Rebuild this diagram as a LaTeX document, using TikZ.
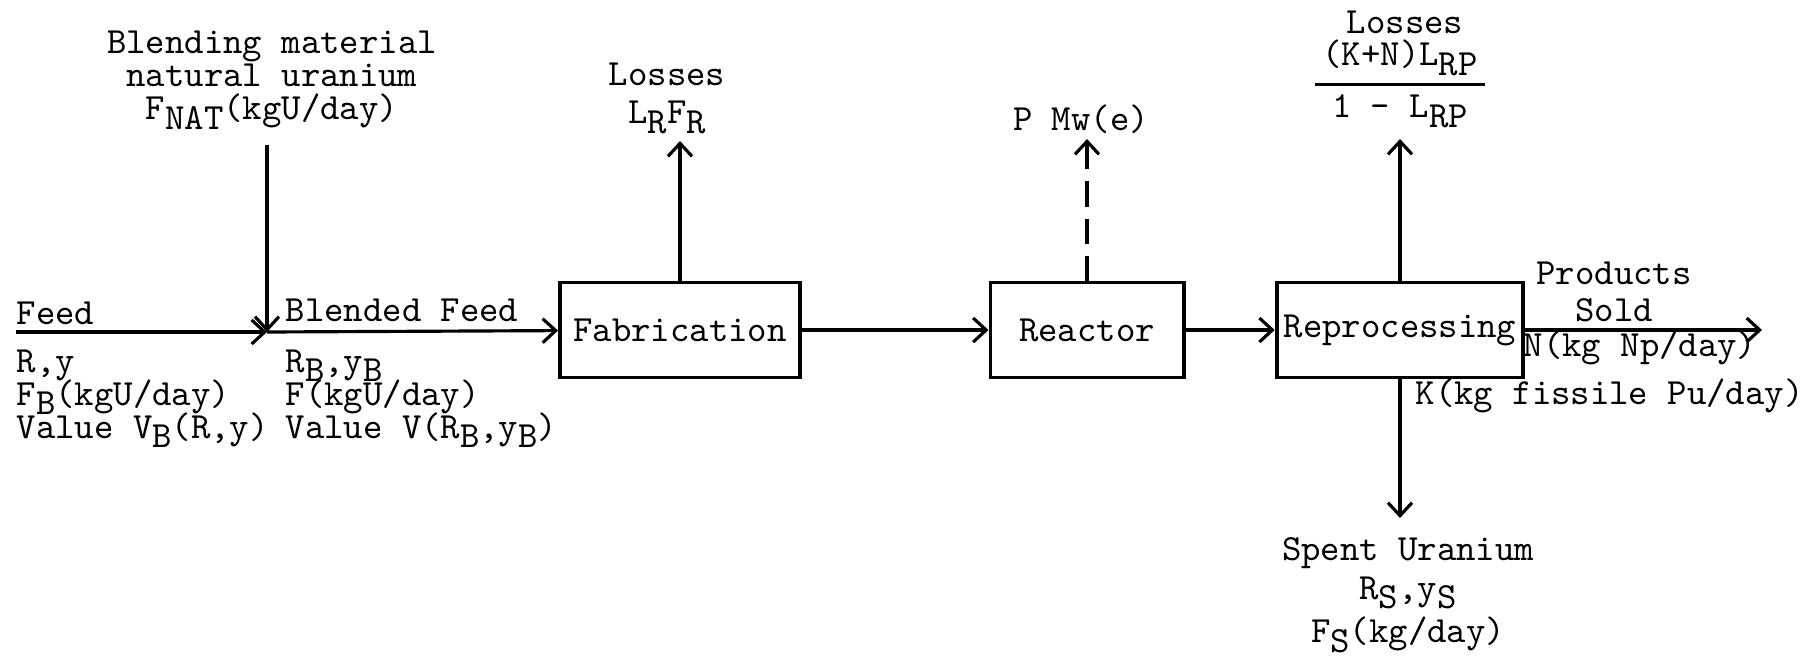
\documentclass[tikz,border=0pt]{standalone}
\usetikzlibrary{arrows.meta}
\newcommand\dn[1]{\raisebox{-0.6ex}{#1}}
\newcommand\myfont{\ttfamily\fontsize{10.5}{9.4}\selectfont\setlength{\lineskiplimit}{-20pt}}
\begin{document}
\begin{tikzpicture}[x=0.01cm,y=-0.01cm,
  every node/.style={font=\myfont, inner sep=0pt},
  proc/.style={draw, line width=1.1pt, minimum width=2.4cm, minimum height=0.95cm, inner sep=2pt},
  flow/.style={line width=0.9pt, -{Straight Barb[length=1.3mm,width=2.4mm,line width=0.9pt]}},
  ]
\useasboundingbox (0,0) rectangle (1818,660);
% process boxes
\node[proc] (fab) at (680,330) {Fabrication};
\node[proc, minimum width=1.93cm] (reac) at (1087,330) {Reactor};
\node[proc] (rep) at (1400,330) {Reprocessing};
% free ends
\coordinate (feedin) at (16,332);
\coordinate (J) at (267,332);
\coordinate (bl) at (267,145);
\coordinate (fabtop) at (680,141);
\coordinate (reactop) at (1087,139);
\coordinate (reptop) at (1400,139);
\coordinate (repbot) at (1400,518);
\coordinate (prodend) at (1762,330);
% labels
\node[align=center] (blend) at (272,80) {Blending material\\natural uranium\\F\dn{NAT}(kgU/day)};
\node[anchor=west] (feedlbl) at (16,313) {Feed};
\node[anchor=north west, align=left] (feedinfo) at (16,349) {R,y\\F\dn{B}(kgU/day)\\Value V\dn{B}(R,y)};
\node[anchor=west] (bflbl) at (285,310) {Blended Feed};
\node[anchor=north west, align=left] (bfinfo) at (285,349) {R\dn{B},y\dn{B}\\F(kgU/day)\\Value V(R\dn{B},y\dn{B})};
\node[align=center] (fabloss) at (667,98) {Losses\\[1.5pt]L\dn{R}F\dn{R}};
\node (pmw) at (1081,119) {P Mw(e)};
\node (rloss) at (1405,22) {Losses};
\node (rfrac) at (1400,84) {\setlength\arrayrulewidth{0.9pt}\begin{tabular}{@{\hspace{2pt}}c@{\hspace{2pt}}}(K+N)L\dn{RP}\\[2pt]\hline\rule{0pt}{9pt}1 - L\dn{RP}\end{tabular}};
\node[align=center] (prod) at (1614,292) {Products\\[1pt]Sold};
\node[anchor=west] (nlbl) at (1523,348) {N(kg Np/day)};
\node[anchor=west] (klbl) at (1415,396) {K(kg fissile Pu/day)};
\node[anchor=north, align=center] (spent) at (1408,537) {Spent Uranium\\[1.5pt]R\dn{S},y\dn{S}\\[3pt]F\dn{S}(kg/day)};
% connectors
\draw[flow] (feedin) -- (J);
\draw[flow] (bl) -- (J);
\draw[flow] (J) -- (fab);
\draw[flow] (fab) -- (reac);
\draw[flow] (reac) -- (rep);
\draw[flow] (rep) -- (prodend);
\draw[flow] (fab.north) -- (fabtop);
\draw[flow, dash pattern=on 2.5mm off 1.2mm] (reac.north) -- (reactop);
\draw[flow] (rep.north) -- (reptop);
\draw[flow] (rep.south) -- (repbot);
\end{tikzpicture}
\end{document}
